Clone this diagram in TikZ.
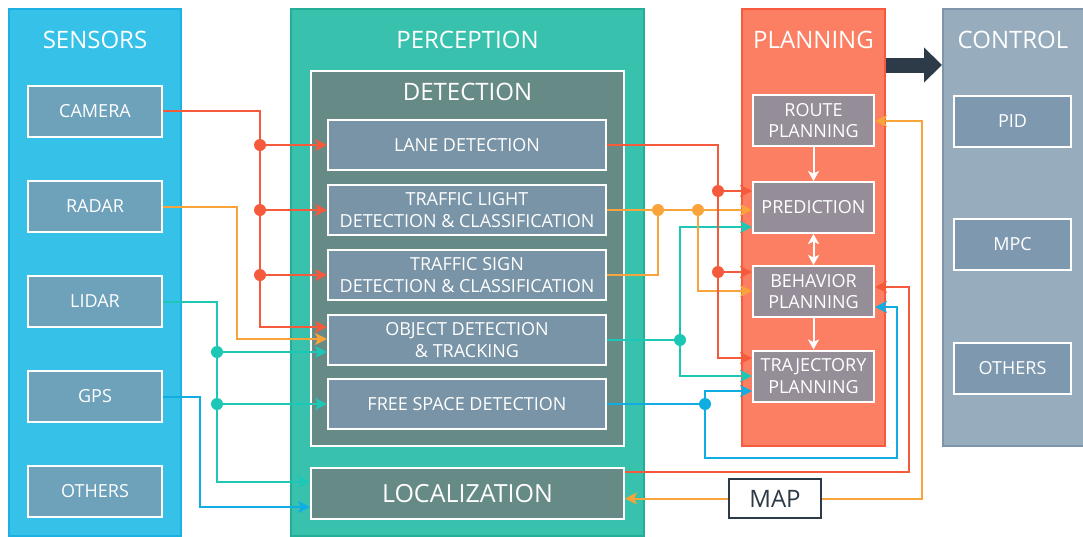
\documentclass[tikz,border=0pt]{standalone}
\usepackage{fontspec}
\setmainfont{Open Sans}
\usetikzlibrary{arrows.meta,calc}
\definecolor{sensfill}{HTML}{35C1E8}
\definecolor{sensborder}{HTML}{1DB1E1}
\definecolor{sensbox}{HTML}{6EA1BA}
\definecolor{percfill}{HTML}{38C1AD}
\definecolor{percborder}{HTML}{22AE97}
\definecolor{detfill}{HTML}{668A86}
\definecolor{detbox}{HTML}{7894A6}
\definecolor{planfill}{HTML}{FD7F63}
\definecolor{planborder}{HTML}{F75A3E}
\definecolor{planbox}{HTML}{958E99}
\definecolor{ctrlfill}{HTML}{97ACBD}
\definecolor{ctrlborder}{HTML}{7E95A9}
\definecolor{ctrlbox}{HTML}{7E99AF}
\definecolor{cred}{HTML}{F55A3C}
\definecolor{corange}{HTML}{F9A43B}
\definecolor{cteal}{HTML}{1CC8B5}
\definecolor{cblue}{HTML}{10ADE3}
\definecolor{cdark}{HTML}{2D3A47}
\begin{document}
\begin{tikzpicture}[x=1pt,y=-1pt,
  panel/.style={line width=2pt, inner sep=0pt},
  ptitle/.style={text=white, font=\fontsize{24}{28}\selectfont, inner sep=0pt},
  box/.style={draw=white, line width=2pt, inner sep=0pt, text=white, align=center,
    font=\fontsize{18}{21.5}\selectfont},
  arr/.style={-{Stealth[length=12pt,width=12pt,inset=3pt]}},
  conn/.style={line width=2pt},
  redl/.style={conn, draw=cred},
  orangel/.style={conn, draw=corange},
  teall/.style={conn, draw=cteal},
  bluel/.style={conn, draw=cblue},
  warr/.style={draw=white, line width=2pt},
]
\useasboundingbox (0,0) rectangle (1083,536);
% panels
\node[panel, draw=sensborder, fill=sensfill, minimum width=172pt, minimum height=527pt] (sensors) at (95,272) {};
\node[panel, draw=percborder, fill=percfill, minimum width=353pt, minimum height=527pt] (perception) at (467.5,272) {};
\node[panel, draw=planborder, fill=planfill, minimum width=143pt, minimum height=437pt] (planning) at (813.5,227.5) {};
\node[panel, draw=ctrlborder, fill=ctrlfill, minimum width=141pt, minimum height=437pt] (control) at (1013.5,227.5) {};
\node[box, fill=detfill, minimum width=313pt, minimum height=375pt] (detection) at (467.5,258.5) {};
% titles
\node[ptitle] (tsens) at (95,40) {SENSORS};
\node[ptitle] (tperc) at (467.5,40) {PERCEPTION};
\node[ptitle] (tdet) at (467.5,92) {DETECTION};
\node[ptitle] (tplan) at (813.5,40) {PLANNING};
\node[ptitle] (tctrl) at (1013,40) {CONTROL};
% sensor boxes
\begin{scope}[every node/.style={box, fill=sensbox, minimum width=134pt, minimum height=51pt}]
\node (camera) at (95,111) {CAMERA};
\node (radar) at (95,206.5) {RADAR};
\node (lidar) at (95,301.5) {LIDAR};
\node (gps) at (95,396.5) {GPS};
\node (sothers) at (95,491.5) {OTHERS};
\end{scope}
% detection boxes
\begin{scope}[every node/.style={box, fill=detbox, minimum width=278pt, minimum height=50pt}]
\node (lane) at (467,145) {LANE DETECTION};
\node (tl) at (467,210) {TRAFFIC LIGHT\\DETECTION \& CLASSIFICATION};
\node (ts) at (467,275) {TRAFFIC SIGN\\DETECTION \& CLASSIFICATION};
\node (obj) at (467,340) {OBJECT DETECTION\\\& TRACKING};
\node (fs) at (467,404) {FREE SPACE DETECTION};
\end{scope}
\node[box, fill=detfill, minimum width=313pt, minimum height=51pt, font=\fontsize{25}{29}\selectfont] (local) at (467.5,493.5) {LOCALIZATION};
% planning boxes
\begin{scope}[every node/.style={box, fill=planbox, minimum width=121pt, minimum height=51pt}]
\node (route) at (813.5,120.5) {ROUTE\\PLANNING};
\node (pred) at (813.5,207.5) {PREDICTION};
\node (behav) at (813.5,291.5) {BEHAVIOR\\PLANNING};
\node (traj) at (813.5,376) {TRAJECTORY\\PLANNING};
\end{scope}
% control boxes
\begin{scope}[every node/.style={box, fill=ctrlbox, minimum width=117pt, minimum height=51pt}]
\node (pid) at (1012.5,121) {PID};
\node (mpc) at (1012.5,244.5) {MPC};
\node (cothers) at (1012.5,368.5) {OTHERS};
\end{scope}
% map
\node[draw=cdark, fill=white, line width=2pt, minimum width=92pt, minimum height=39pt, inner sep=0pt,
  text=cdark, font=\fontsize{24}{28}\selectfont] (map) at (775,498.5) {MAP};
% big arrow planning -> control
\draw[cdark, line width=15pt, -{Triangle[length=18pt,width=34pt]}]
  ($(planning.north east)+(0,57)$) -- ($(control.north west)+(0,57)$);
% planning internal arrows
\draw[warr, -{Stealth[length=10pt,width=11pt,inset=2.5pt]}] (route.south) -- (pred.north);
\draw[warr, {Stealth[length=10pt,width=11pt,inset=2.5pt]}-{Stealth[length=10pt,width=11pt,inset=2.5pt]}] (pred.south) -- (behav.north);
\draw[warr, -{Stealth[length=10pt,width=11pt,inset=2.5pt]}] (behav.south) -- (traj.north);
% ---- left connectors
\coordinate (ov) at (237,339);
\draw[orangel, arr] (radar.east) -| (ov) -- (ov -| obj.west);
\coordinate (rv) at (260,327);
\draw[redl, arr] (camera.east) -| (rv) -- (rv -| obj.west);
\foreach \n in {lane,tl,ts}{
  \draw[redl, arr] (rv |- \n.west) -- (\n.west);
  \fill[cred] (rv |- \n.west) circle (6pt);
}
\coordinate (tv) at (217,482);
\draw[teall, arr] (lidar.east) -| (tv) -- (tv -| local.west);
\coordinate (td1) at (217,352);
\draw[teall, arr] (td1) -- (td1 -| obj.west);
\fill[cteal] (td1) circle (6pt);
\coordinate (td2) at (tv |- fs.west);
\draw[teall, arr] (td2) -- (fs.west);
\fill[cteal] (td2) circle (6pt);
\coordinate (bv) at (200,507);
\draw[bluel, arr] (gps.east) -| (bv) -- (bv -| local.west);
% ---- right connectors
% teal from object
\coordinate (tdot) at (680,340);
\coordinate (tu) at (680,227);
\coordinate (tdn) at (680,376);
\draw[teall] (obj.east) -- (tdot);
\draw[teall, arr] (tdot) -- (tu) -- (tu -| pred.west);
\draw[teall, arr] (tdot) -- (tdn) -- (tdn -| traj.west);
\fill[cteal] (tdot) circle (6pt);
% orange from traffic light / sign
\coordinate (od1) at (658,210);
\coordinate (od2) at (698,210);
\coordinate (ob) at (698,291);
\draw[orangel, arr] (tl.east) -- (tl.east -| pred.west);
\draw[orangel] (ts.east) -| (od1);
\draw[orangel, arr] (od2) -- (ob) -- (ob -| behav.west);
\fill[corange] (od1) circle (6pt);
\fill[corange] (od2) circle (6pt);
% red from lane
\coordinate (rr) at (718,358);
\coordinate (rd1) at (718,191);
\coordinate (rd2) at (718,272);
\draw[redl, arr] (lane.east) -| (rr) -- (rr -| traj.west);
\draw[redl, arr] (rd1) -- (rd1 -| pred.west);
\draw[redl, arr] (rd2) -- (rd2 -| behav.west);
\fill[cred] (rd1) circle (6pt);
\fill[cred] (rd2) circle (6pt);
% blue from free space
\coordinate (bdot) at (705,404);
\coordinate (bu) at (705,391);
\coordinate (bd1) at (705,458);
\coordinate (bd2) at (897,458);
\coordinate (bd3) at (897,307);
\draw[bluel] (fs.east) -- (bdot);
\draw[bluel, arr] (bdot) -- (bu) -- (bu -| traj.west);
\draw[bluel, arr] (bdot) -- (bd1) -- (bd2) -- (bd3) -- (bd3 -| behav.east);
\fill[cblue] (bdot) circle (6pt);
% red from localization
\coordinate (lr0) at ($(local.east)+(0,-21.5)$);
\coordinate (lr1) at (909,472);
\coordinate (lr2) at (909,287);
\draw[redl, arr] (lr0) -- (lr1) -- (lr2) -- (lr2 -| behav.east);
% orange map
\draw[orangel, arr] (map.west) -- (map.west -| local.east);
\coordinate (mo1) at (922,498.5);
\coordinate (mo2) at (922,121);
\draw[orangel, arr] (map.east) -- (mo1) -- (mo2) -- (mo2 -| route.east);
\end{tikzpicture}
\end{document}
